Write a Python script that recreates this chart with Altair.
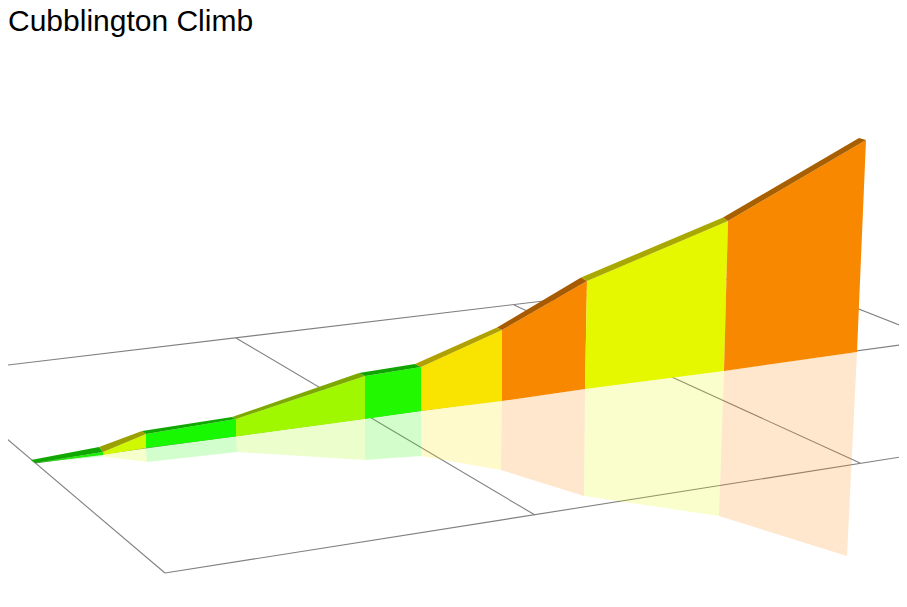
import altair as alt
import pandas as pd

TITLE = "Cubblington Climb"

# Ridge and wall outline
ridge_back_x = [31, 99, 142, 232, 359, 415, 497, 581, 723, 859]
ridge_back_y = [460, 447, 431, 417, 373, 364, 327.5, 277.5, 217.5, 138]
ridge_front_x = [35, 103, 146, 236, 365, 421, 502, 587, 728, 866]
ridge_front_y = [463, 452, 434, 419, 376, 367, 330, 281, 221, 140]
base_x = [35, 103, 146, 236, 365, 421, 502, 585, 724, 857]
base_y = [463, 455, 448, 436.5, 419, 411, 401, 389, 371, 352]
mirror_x = [35, 103, 147, 237, 365, 421, 501, 584, 719, 847]
mirror_y = [463, 456.5, 462, 452, 460, 456, 470, 496, 516, 556]

wall_colors = ["#1cf000", "#d0f800", "#18f800", "#a0f800", "#22f800",
               "#f8e400", "#f88800", "#e6f800", "#f88800"]
band_colors = ["#10a800", "#9aa000", "#10a800", "#7ca800", "#10a400",
               "#b0a000", "#a85a00", "#a8a800", "#a85f00"]

# Floor grid segments
grid_x = [0, 770, 165, 0, 236, 514, 35]
grid_y = [366, 274, 573, 433, 338, 305, 463]
grid_x2 = [770, 907, 907, 165, 535, 860, 907]
grid_y2 = [274, 328, 456, 573, 515, 463, 344]

X = alt.Scale(domain=[8, 899], range=[0, 891], nice=False, zero=False)
Y = alt.Scale(domain=[8, 599], range=[0, 591], nice=False, zero=False)


def quads(xa, ya, xb, yb, colors):
    rows = []
    for i, c in enumerate(colors):
        pts = [(xa[i], ya[i]), (xa[i + 1], ya[i + 1]), (xb[i + 1], yb[i + 1]), (xb[i], yb[i])]
        for k, (px, py) in enumerate(pts):
            rows.append({"seg": i, "k": k, "x": px, "y": py, "c": c})
    return pd.DataFrame(rows)


def poly(df, opacity=1.0):
    return (
        alt.Chart(df)
        .mark_line(filled=True, opacity=opacity, strokeWidth=0, clip=True)
        .encode(
            x=alt.X("x:Q", scale=X, axis=None),
            y=alt.Y("y:Q", scale=Y, axis=None),
            order="k:Q",
            detail="seg:N",
            fill=alt.Fill("c:N", scale=None, legend=None),
        )
    )


grid_df = pd.DataFrame({"x": grid_x, "y": grid_y, "x2": grid_x2, "y2": grid_y2})
grid = (
    alt.Chart(grid_df)
    .mark_rule(color="#808080", strokeWidth=1.1, clip=True)
    .encode(
        x=alt.X("x:Q", scale=X, axis=None),
        y=alt.Y("y:Q", scale=Y, axis=None),
        x2="x2:Q",
        y2="y2:Q",
    )
)

mirror = poly(quads(base_x, base_y, mirror_x, mirror_y, wall_colors), 0.2)
wall = poly(quads(ridge_front_x, ridge_front_y, base_x, base_y, wall_colors))
band = poly(quads(ridge_back_x, ridge_back_y, ridge_front_x, ridge_front_y, band_colors))

chart = (
    alt.layer(grid, mirror, wall, band)
    .properties(
        width=891,
        height=591,
        padding=0,
        autosize=alt.AutoSizeParams(type="none"),
        title=alt.TitleParams(
            TITLE, anchor="start", frame="group", orient="top", offset=-29,
            font="Liberation Sans", fontSize=30, fontWeight="normal", color="#000000",
        ),
    )
    .configure_view(stroke=None)
    .configure_axis(domain=False)
)

chart.save("out.html", embed_options={"renderer": "svg", "actions": False})
